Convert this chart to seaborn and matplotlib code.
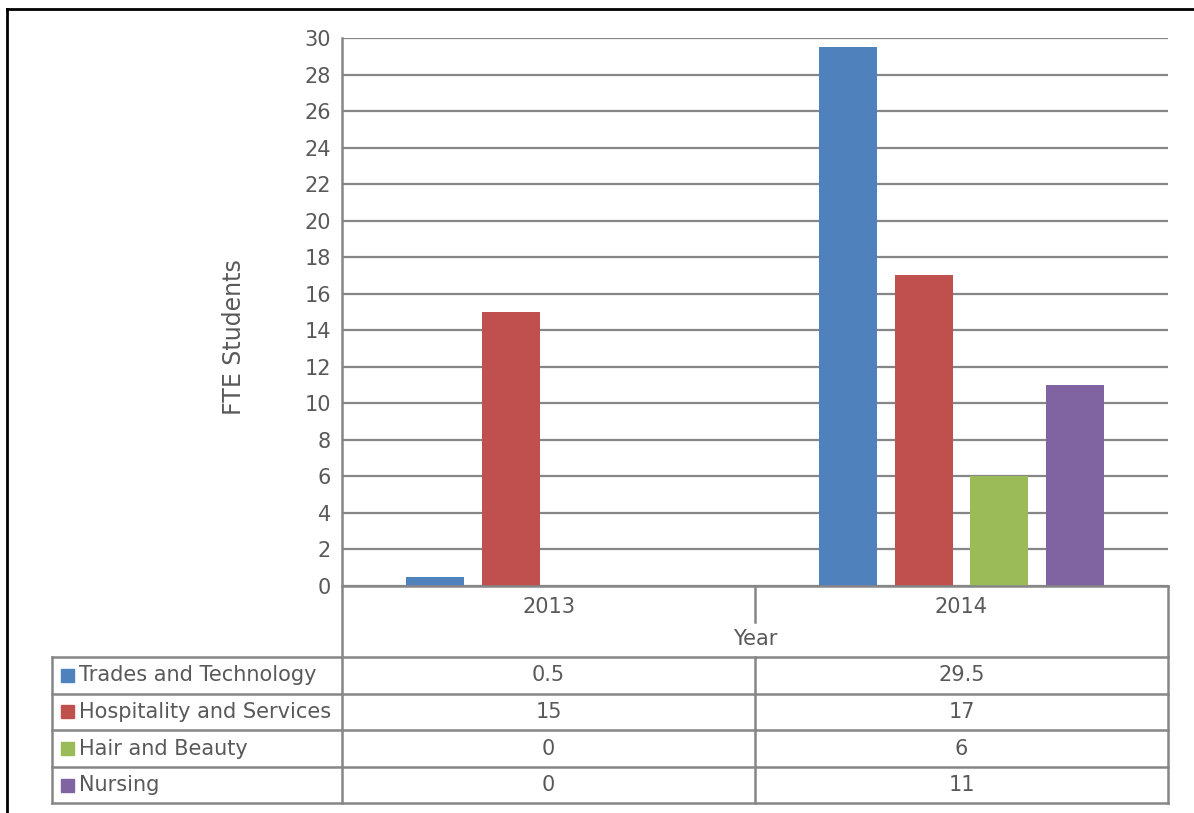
import matplotlib
matplotlib.use("Agg")
import matplotlib.pyplot as plt
import seaborn as sns
import pandas as pd
from matplotlib.patches import Rectangle
from matplotlib.lines import Line2D

years = ["2013", "2014"]
programs = ["Trades and Technology", "Hospitality and Services", "Hair and Beauty", "Nursing"]
trades = [0.5, 29.5]
hospitality = [15, 17]
hair = [0, 6]
nursing = [0, 11]
value_labels = {
    "Trades and Technology": ["0.5", "29.5"],
    "Hospitality and Services": ["15", "17"],
    "Hair and Beauty": ["0", "6"],
    "Nursing": ["0", "11"],
}
colors = ["#4F81BD", "#C0504D", "#9BBB59", "#8064A2"]
yticks = list(range(0, 31, 2))

series = [trades, hospitality, hair, nursing]
df = pd.DataFrame([
    {"Year": y, "Program": p, "FTE": s[i]}
    for p, s in zip(programs, series)
    for i, y in enumerate(years)
])

sns.set_theme(style="white")
plt.rcParams["font.family"] = ["DejaVu Sans"]
TXT = "#595959"
GRID = "#868686"
FS = 15

W, H = 1194, 813
fig = plt.figure(figsize=(W / 100, H / 100), dpi=100)

# plot area in pixels
px_l, px_r, px_t, px_b = 342, 1168, 38, 586
ax = fig.add_axes([px_l / W, 1 - px_b / H, (px_r - px_l) / W, (px_b - px_t) / H])
sns.barplot(data=df, x="Year", y="FTE", hue="Program", order=years, hue_order=programs,
            palette=colors, width=0.73, gap=0.23, linewidth=0, saturation=1, ax=ax,
            legend=False, zorder=3)
ax.set_xlim(-0.5, 1.5)
ax.set_ylim(0, 30)
ax.set_yticks(yticks)
ax.set_yticklabels([str(t) for t in yticks], fontsize=FS, color=TXT)
ax.tick_params(axis="y", length=0, pad=8)
ax.tick_params(axis="x", length=0, pad=8, labelsize=FS, labelcolor=TXT)
ax.yaxis.grid(True, color=GRID, linewidth=1.6)
ax.set_axisbelow(True)
for s in ["top", "right", "left", "bottom"]:
    ax.spines[s].set_visible(False)
ax.set_xlabel("Year", fontsize=FS, color=TXT)
ax.xaxis.set_label_coords(0.5, -0.078)
ax.set_ylabel("FTE Students", fontsize=17, color=TXT)
ax.yaxis.set_label_coords(-0.116, 0.455)

# overlay axes in pixel coordinates for the data table
tax = fig.add_axes([0, 0, 1, 1], zorder=5)
tax.set_xlim(0, W)
tax.set_ylim(H, 0)
tax.axis("off")
tax.patch.set_alpha(0)

lw = 1.8
def line(x0, y0, x1, y1, c=GRID, w=lw):
    tax.add_line(Line2D([x0, x1], [y0, y1], color=c, linewidth=w, solid_capstyle="projecting"))

# outer black frame (partially visible)
line(7, 9, W + 5, 9, c="black", w=2)
line(7, 9, 7, H + 5, c="black", w=2)

col_edges = [px_l] + [ax.transData.transform((i + 0.5, 0))[0] for i in range(len(years))]
col_centers = [ax.transData.transform((i, 0))[0] for i in range(len(years))]
row_edges = [657, 693.5, 730, 767, 803]
tab_left = 52

# axis lines
line(px_l, px_t, px_l, row_edges[-1])
line(px_l, px_b, px_r, px_b)
line(px_r, px_b, px_r, row_edges[-1])
line(col_edges[1], px_b, col_edges[1], 622)
for ry in row_edges:
    line(tab_left, ry, px_r, ry)
line(tab_left, row_edges[0], tab_left, row_edges[-1])
line(col_edges[1], row_edges[0], col_edges[1], row_edges[-1])

for r, (p, c) in enumerate(zip(programs, colors)):
    yc = (row_edges[r] + row_edges[r + 1]) / 2
    tax.add_patch(Rectangle((61, yc - 6.5), 13, 13, color=c))
    tax.text(79, yc, p, fontsize=FS, color=TXT, va="center", ha="left")
    for i in range(len(years)):
        tax.text(col_centers[i], yc, value_labels[p][i], fontsize=FS, color=TXT,
                 va="center", ha="center")

fig.savefig("out.png", dpi=100)
